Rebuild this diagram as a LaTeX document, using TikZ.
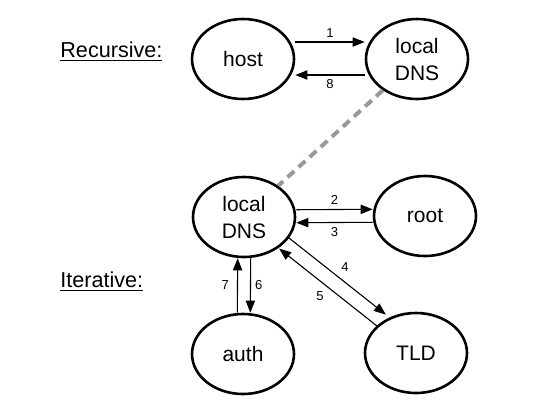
\documentclass[tikz,border=0pt]{standalone}
\usepackage{fontspec}
\setmainfont{Liberation Sans}
\usetikzlibrary{arrows.meta, shapes.geometric}

\tikzset{
  srv/.style={ellipse, draw, line width=1.3pt, minimum width=51pt, minimum height=40pt,
    inner sep=0pt, align=center, font=\fontsize{10.5}{13.5}\selectfont},
  msg/.style={->, line width=0.55pt},
  num/.style={font=\fontsize{6.5}{7.5}\selectfont, inner sep=2pt},
  heading/.style={anchor=base west, inner sep=0pt, font=\fontsize{10.8}{13}\selectfont}
}

\begin{document}
\begin{tikzpicture}[x=0.5pt, y=-0.5pt, >={Triangle[length=6pt,width=4.6pt]}, auto]
      \useasboundingbox (0,0) rectangle (550,413);

      \node[heading] (rec) at (60,57) {\underline{Recursive:}};
      \node[heading] (itr) at (60,287) {\underline{Iterative:}};

      \node[srv] (host) at (243,59) {host};
      \node[srv] (ldnsA) at (417,59) {local\\DNS};
      \node[srv] (ldnsB) at (244,217) {local\\DNS};
      \node[srv] (root) at (425,216) {root};
      \node[srv] (auth) at (243,354) {auth};
      \node[srv] (tld) at (416,353) {TLD};

      % recursive query
      \draw[msg, transform canvas={yshift=8.5pt}] (host) -- (ldnsA) node[num, above, midway] {1};
      \draw[msg, transform canvas={yshift=-8pt}] (ldnsA) -- (host) node[num, below, midway] {8};
      \draw[gray!80, line width=2pt, dash pattern=on 4.5pt off 3pt] (ldnsA) -- (ldnsB);

      % iterative query
      \draw[msg, transform canvas={yshift=3.5pt}] (ldnsB) -- (root) node[num, above, midway] {2};
      \draw[msg, transform canvas={yshift=-3pt}] (root) -- (ldnsB) node[num, below, midway] {3};
      \draw[msg, transform canvas={shift={(3.4pt,4.6pt)}}] (ldnsB) -- (tld) node[num, above right, midway] {4};
      \draw[msg, transform canvas={shift={(-0.9pt,-1.2pt)}}] (tld) -- (ldnsB) node[num, below left, midway] {5};
      \draw[msg, transform canvas={xshift=3.5pt}] (ldnsB) -- (auth) node[num, right, midway] {6};
      \draw[msg, transform canvas={xshift=-3pt}] (auth) -- (ldnsB) node[num, left, midway, inner sep=4pt] {7};
    \end{tikzpicture}
\end{document}
